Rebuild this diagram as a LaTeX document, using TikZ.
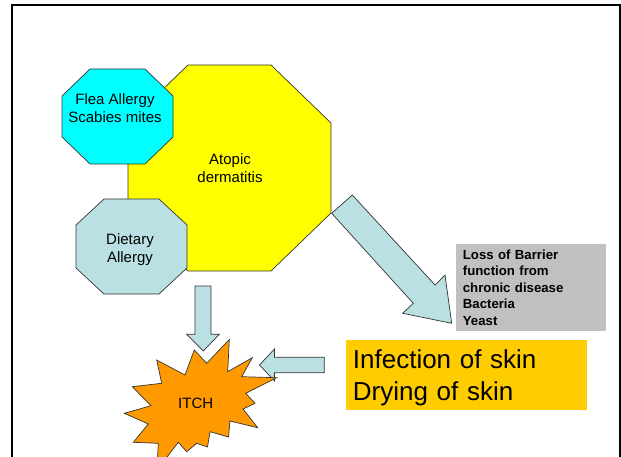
\documentclass[tikz,border=0pt]{standalone}
\usepackage{fontspec}
\setmainfont{Liberation Sans}
\usepackage{xcolor}
\usetikzlibrary{arrows.meta,positioning,calc}
\definecolor{celeste}{HTML}{BBE0E3}
\definecolor{cian}{HTML}{00FFFF}
\definecolor{amarillo}{HTML}{FFFF00}
\definecolor{naranja}{HTML}{FF9900}
\definecolor{oro}{HTML}{FFCC00}
\definecolor{gris}{HTML}{C0C0C0}
\newcommand{\octo}[7]{\draw[#1] (#2+#6,#3) -- (#4-#6,#3) -- (#4,#3+#7) -- (#4,#5-#7) -- (#4-#6,#5) -- (#2+#6,#5) -- (#2,#5-#7) -- (#2,#3+#7) -- cycle;}

\begin{document}
\begin{tikzpicture}[x=1pt,y=-1pt,
shp/.style={draw=black!80,line width=.7pt},
barr/.style={shp,fill=celeste,line join=miter},
lbl/.style={inner sep=0pt,align=center,font=\fontsize{15}{18.4}\selectfont},
gbox/.style={fill=gris,anchor=north west,inner xsep=6.7pt,inner ysep=6pt,text width=136.6pt,align=left,font=\fontsize{13.2}{16.5}\selectfont\bfseries},
obox/.style={fill=oro,anchor=north west,inner xsep=6.7pt,inner ysep=3.8pt,text width=227.3pt,align=left,font=\fontsize{26}{32.4}\selectfont}
]
\useasboundingbox (0,0) rectangle (621,457);
\draw[line width=2pt] (12.3,470) -- (12.3,5.5) -- (619.5,5.5) -- (619.5,470);

\octo{shp,fill=amarillo}{128}{65}{331}{271}{60}{58}
\octo{shp,fill=cian}{62}{69}{173}{164}{28}{27}
\octo{shp,fill=celeste}{76}{199}{187}{294}{28}{26}

\node[lbl] (flea) at (115,108.2) {Flea Allergy\\Scabies mites};
\node[lbl] (atopic) at (230,168) {Atopic\\dermatitis};
\node[lbl] (diet) at (130,249.4) {Dietary\\Allergy};

\draw[barr] (352.3,195) -- (435,285) -- (445,275) -- (451.7,323.3) -- (402.7,313.3) -- (413.3,303.3) -- (331.7,213.3) -- cycle;
\draw[barr] (195,286) -- (211,286) -- (211,334.3) -- (219.3,334.3) -- (203.3,351) -- (186.7,334.3) -- (195,334.3) -- cycle;
\draw[barr] (324.3,357.3) -- (324.3,372.7) -- (274.5,372.7) -- (274.5,381) -- (259.5,365) -- (274.5,349) -- (274.5,357.3) -- cycle;

\draw[shp,fill=naranja,line join=miter] (229.3,339.5) -- (227.7,371.7) -- (252.3,357.7) -- (241.7,376.7) -- (276.7,377.7) -- (245.7,393.3) -- (255,403.3) -- (243,409) -- (257.7,427.7) -- (230,421) -- (228.5,437) -- (210,431.7) -- (207.5,447) -- (196.7,443.3) -- (186.7,451.7) -- (178.3,442.3) -- (157,470) -- (158.3,443.3) -- (133.3,442.3) -- (148.3,424) -- (124.3,413.3) -- (151,405.7) -- (132.3,386.7) -- (161.7,383.3) -- (156.7,360) -- (185,375) -- (194.3,350) -- (206.7,363.3) -- cycle;
\node[lbl,anchor=base] (itch) at (195.7,408.3) {ITCH};

\node[gbox] (loss) at (456,243.3) {Loss of Barrier\\function from\\chronic disease\\Bacteria\\Yeast};
\node[obox] (infec) at (346,339.3) {\rule{0pt}{25.2pt}Infection of skin\\Drying of skin};
\end{tikzpicture}
\end{document}
